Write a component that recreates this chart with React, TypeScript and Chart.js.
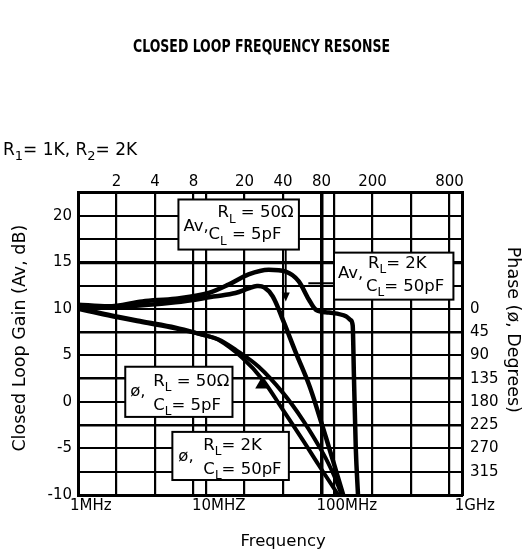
import React, { useEffect, useRef } from 'react';
import { Chart, registerables } from 'chart.js';

Chart.register(...registerables);

// ---------- axis values ----------
const GRID_FREQS = [1, 2, 4, 8, 10, 20, 40, 80, 100, 200, 400, 800, 1000];
const TOP_LABELS = [2, 4, 8, 20, 40, 80, 200, 800];
const DECADES = [1, 10, 100, 1000];
const DECADE_LABELS = ['1MHz', '10MHZ', '100MHz', '1GHz'];
const PHASE_LABELS = [0, 45, 90, 135, 180, 225, 270, 315];

// ---------- series (MHz, dB / degrees) ----------
const avHiFreq = [1, 1.72, 3.18, 5.77, 10.5, 15, 21.5, 30.9, 42, 53.1, 63.6, 72.2, 91.4, 124, 135, 140, 143, 148, 154];
const avHiGain = [10.45, 10.27, 10.8, 11.1, 11.7, 12.6, 13.7, 14.2, 14.0, 12.95, 11.0, 9.9, 9.6, 9.2, 8.8, 8.2, 3.0, -5.0, -10];

const avLoFreq = [1, 2.34, 5.77, 11.9, 17, 21.5, 25, 28.5, 33.2, 39.8, 50.3, 63.6, 76.3, 98.2, 118];
const avLoGain = [10.3, 10.27, 10.7, 11.35, 11.7, 12.2, 12.45, 12.3, 11.35, 8.84, 5.3, 1.9, -1.4, -6.3, -10];

const phHiFreq = [1, 1.72, 3.18, 5.77, 9.39, 12.5, 17, 25.8, 39.8, 57.1, 82, 100, 115];
const phHiDeg = [-2, 11, 24, 36, 50, 59, 79, 112, 162, 215, 279, 322, 360];

const phLoFreq = [1, 1.72, 3.18, 5.77, 9.39, 12.5, 19.3, 27.7, 39.8, 57.1, 75, 90, 108];
const phLoDeg = [0, 13, 26, 38, 50, 60, 95, 137, 195, 254, 300, 330, 360];

const TITLE = 'CLOSED LOOP FREQUENCY RESONSE';

// ---------- annotation layout (data coords for boxes, px offsets for text) ----------
type Part = [string, boolean?];
const NOTES: { x0: number; x1: number; y0: number; y1: number; lines: { dx: number; dy: number; parts: Part[] }[] }[] = [
  {
    x0: 6.09, x1: 53.2, y0: 21.75, y1: 16.37,
    lines: [
      { dx: 5, dy: 32, parts: [['Av,']] },
      { dx: 39, dy: 18, parts: [['R'], ['L', true], [' = 50Ω']] },
      { dx: 30, dy: 40, parts: [['C'], ['L', true], [' = 5pF']] },
    ],
  },
  {
    x0: 100, x1: 857, y0: 16.04, y1: 10.99,
    lines: [
      { dx: 4, dy: 25, parts: [['Av,']] },
      { dx: 34, dy: 15, parts: [['R'], ['L', true], ['= 2K']] },
      { dx: 32, dy: 38, parts: [['C'], ['L', true], ['= 50pF']] },
    ],
  },
  {
    x0: 2.34, x1: 16.1, y0: 3.78, y1: -1.61,
    lines: [
      { dx: 5, dy: 29, parts: [['ø,']] },
      { dx: 28, dy: 19, parts: [['R'], ['L', true], [' = 50Ω']] },
      { dx: 28, dy: 43, parts: [['C'], ['L', true], ['= 5pF']] },
    ],
  },
  {
    x0: 5.46, x1: 44.4, y0: -3.22, y1: -8.39,
    lines: [
      { dx: 6, dy: 29, parts: [['ø,']] },
      { dx: 31, dy: 18, parts: [['R'], ['L', true], ['= 2K']] },
      { dx: 31, dy: 42, parts: [['C'], ['L', true], ['= 50pF']] },
    ],
  },
];

const FONT = '"DejaVu Sans", sans-serif';
const TITLE_FONT = 'bold 17px "DejaVu Sans Condensed", "DejaVu Sans", sans-serif';
const BLACK = '#000';

function drawRich(ctx: CanvasRenderingContext2D, x: number, y: number, parts: Part[], size: number) {
  let cx = x;
  for (const [text, sub] of parts) {
    const s = sub ? Math.round(size * 0.75) : size;
    ctx.font = `${s}px ${FONT}`;
    ctx.fillText(text, cx, sub ? y + size * 0.32 : y);
    cx += ctx.measureText(text).width;
  }
}

const notesPlugin = {
  id: 'notes',
  afterDatasetsDraw(chart: any) {
    const { ctx } = chart;
    const xs = chart.scales.x;
    const ys = chart.scales.y;
    ctx.save();
    ctx.strokeStyle = BLACK;
    ctx.fillStyle = BLACK;

    // leader: Av RL=50Ω box down to the curve
    const lx = xs.getPixelForValue(42);
    const lTop = ys.getPixelForValue(16.37);
    const lTip = ys.getPixelForValue(10.8);
    ctx.lineWidth = 1.8;
    ctx.beginPath();
    ctx.moveTo(lx, lTop);
    ctx.lineTo(lx, lTip - 6);
    ctx.stroke();
    ctx.beginPath();
    ctx.moveTo(lx - 4, lTip - 9);
    ctx.lineTo(lx + 4, lTip - 9);
    ctx.lineTo(lx, lTip);
    ctx.closePath();
    ctx.fill();

    // leader: Av RL=2K box to the curve
    const hy = ys.getPixelForValue(12.75);
    ctx.lineWidth = 2;
    ctx.beginPath();
    ctx.moveTo(xs.getPixelForValue(63), hy);
    ctx.lineTo(xs.getPixelForValue(100), hy);
    ctx.stroke();

    // pointer triangle of the phase box
    const tx = xs.getPixelForValue(27);
    const ty = ys.getPixelForValue(2.1);
    ctx.beginPath();
    ctx.moveTo(tx - 6, ty + 6);
    ctx.lineTo(tx + 6, ty + 6);
    ctx.lineTo(tx + 1, ty - 6);
    ctx.closePath();
    ctx.fill();

    // boxes
    for (const n of NOTES) {
      const l = xs.getPixelForValue(n.x0);
      const r = xs.getPixelForValue(n.x1);
      const t = ys.getPixelForValue(n.y0);
      const b = ys.getPixelForValue(n.y1);
      ctx.fillStyle = '#fff';
      ctx.fillRect(l, t, r - l, b - t);
      ctx.lineWidth = 2;
      ctx.strokeStyle = BLACK;
      ctx.strokeRect(l, t, r - l, b - t);
      ctx.fillStyle = BLACK;
      ctx.textBaseline = 'alphabetic';
      ctx.textAlign = 'left';
      for (const ln of n.lines) drawRich(ctx, l + ln.dx, t + ln.dy, ln.parts, 16.5);
    }
    ctx.restore();
  },
  afterDraw(chart: any) {
    const { ctx } = chart;
    ctx.save();
    ctx.fillStyle = BLACK;
    ctx.textBaseline = 'alphabetic';
    ctx.textAlign = 'left';
    drawRich(ctx, 3, 155, [['R'], ['1', true], ['= 1K, R'], ['2', true], ['= 2K']], 17);

    // chart title, condensed to the width of the original lettering
    ctx.font = TITLE_FONT;
    const w = ctx.measureText(TITLE).width;
    const sx = 257 / w;
    ctx.translate(chart.width / 2, 52);
    ctx.scale(sx, 1);
    ctx.textAlign = 'center';
    ctx.fillText(TITLE, 0, 0);
    ctx.restore();
  },
};

const pts = (xs: number[], ys: number[]) => xs.map((x, i) => ({ x, y: ys[i] }));

const lineStyle = {
  borderColor: BLACK,
  borderWidth: 4.5,
  pointRadius: 0,
  fill: false,
  tension: 0.35,
  borderCapStyle: 'round' as const,
  borderJoinStyle: 'round' as const,
};

export default function App() {
  const ref = useRef<HTMLCanvasElement | null>(null);

  useEffect(() => {
    if (!ref.current) return;
    const tickFont = { family: FONT, size: 15 };
    const axisTitleFont = { family: FONT, size: 17.5 };
    const chart = new Chart(ref.current, {
      type: 'line',
      data: {
        datasets: [
          { label: 'Av, RL=2K, CL=50pF', data: pts(avHiFreq, avHiGain), xAxisID: 'x', yAxisID: 'y', ...lineStyle, cubicInterpolationMode: 'monotone' },
          { label: 'Av, RL=50Ω, CL=5pF', data: pts(avLoFreq, avLoGain), xAxisID: 'x', yAxisID: 'y', ...lineStyle },
          { label: 'ø, RL=2K, CL=50pF', data: pts(phHiFreq, phHiDeg), xAxisID: 'x', yAxisID: 'y1', ...lineStyle, borderWidth: 4 },
          { label: 'ø, RL=50Ω, CL=5pF', data: pts(phLoFreq, phLoDeg), xAxisID: 'x', yAxisID: 'y1', ...lineStyle, borderWidth: 4 },
        ],
      },
      options: {
        responsive: false,
        animation: false,
        devicePixelRatio: 1,
        layout: { padding: { top: 170.5, left: 0, right: 0, bottom: 0 } },
        plugins: {
          legend: { display: false },
          tooltip: { enabled: false },
          title: { display: false },
        },
        scales: {
          x: {
            type: 'logarithmic',
            position: 'top',
            min: 1,
            max: 1000,
            afterBuildTicks: (s: any) => { s.ticks = GRID_FREQS.map((v) => ({ value: v })); },
            afterFit: (s: any) => { s.height = 22; },
            ticks: {
              autoSkip: false, maxRotation: 0, padding: 1, color: BLACK, font: tickFont,
              callback: (v: any) => (TOP_LABELS.includes(Number(v)) ? String(v) : ''),
            },
            grid: {
              color: BLACK,
              drawTicks: false,
              lineWidth: (c: any) => (c.tick && c.tick.value === 80 ? 3.5 : 2.2),
            },
            border: { color: BLACK, width: 3 },
          },
          x2: {
            type: 'logarithmic',
            position: 'bottom',
            min: Math.pow(10, -0.1),
            max: Math.pow(10, 2.9),
            afterBuildTicks: (s: any) => { s.ticks = DECADES.map((v) => ({ value: v })); },
            afterFit: (s: any) => { s.height = 59; },
            ticks: {
              autoSkip: false, maxRotation: 0, padding: 2, color: BLACK, font: tickFont,
              callback: (_v: any, i: number) => DECADE_LABELS[i],
            },
            grid: { display: false, drawTicks: false },
            border: { color: BLACK, width: 3 },
            title: { display: true, text: '     Frequency', color: BLACK, font: { family: FONT, size: 16.5 }, padding: { top: 0, bottom: 2 } },
          },
          y: {
            position: 'left',
            min: -10,
            max: 22.5,
            afterFit: (s: any) => { s.width = 78; },
            ticks: {
              stepSize: 2.5, autoSkip: false, padding: 6, color: BLACK, font: tickFont,
              callback: (v: any) => (Math.abs(Number(v) % 5) < 1e-6 ? String(Math.round(Number(v))) : ''),
            },
            grid: {
              color: BLACK,
              drawTicks: false,
              lineWidth: (c: any) => {
                const v = c.tick ? c.tick.value : 0;
                if (v === 15) return 3.2;
                if (v === 7.5 || v === 2.5 || v === -2.5) return 2.6;
                return 2;
              },
            },
            border: { color: BLACK, width: 3 },
            title: { display: true, text: '  Closed Loop Gain (Av, dB)', color: BLACK, font: axisTitleFont, padding: { top: 9.5, bottom: 0 } },
          },
          y1: {
            position: 'right',
            min: -225,
            max: 360,
            reverse: true,
            afterFit: (s: any) => { s.width = 61; },
            ticks: {
              stepSize: 45, autoSkip: false, padding: 8, color: BLACK, font: tickFont,
              callback: (v: any) => (PHASE_LABELS.includes(Number(v)) ? String(v) : ''),
            },
            grid: { display: false, drawTicks: false },
            border: { color: BLACK, width: 3 },
            title: { display: true, text: 'Phase (ø, Degrees)     ', color: BLACK, font: axisTitleFont, padding: { top: 0, bottom: 0 } },
          },
        },
      } as any,
      plugins: [notesPlugin],
    });
    return () => chart.destroy();
  }, []);

  return (
    <div style={{ position: 'fixed', left: 0, top: 0, width: 523, height: 554, background: '#fff' }}>
      <canvas ref={ref} width={523} height={554} style={{ width: 523, height: 554, display: 'block' }} />
    </div>
  );
}
